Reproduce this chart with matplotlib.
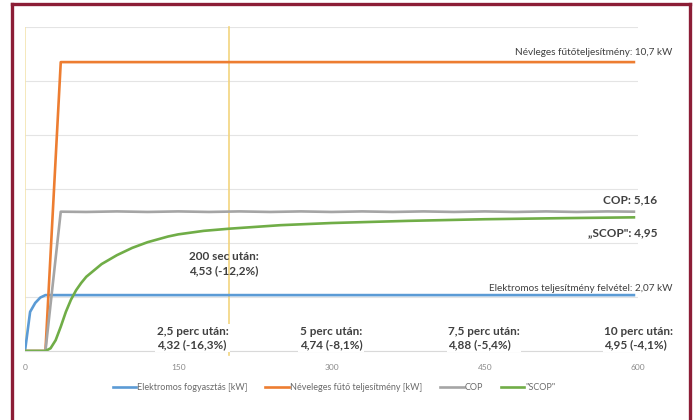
import matplotlib.pyplot as plt
from matplotlib.lines import Line2D

plt.rcParams['font.family'] = ['Lato', 'DejaVu Sans']

# Elektromos fogyasztás [kW]
t_elec = [0, 5, 10, 15, 20, 596]
elec = [0, 1.45, 1.78, 1.98, 2.07, 2.07]

# Névleges fűtő teljesítmény [kW]
t_heat = [0, 20, 35, 596]
heat = [0, 0, 10.7, 10.7]

# COP (slight ripple)
t_cop = [0, 20, 35, 60, 90, 120, 150, 180, 210, 240, 270, 300, 330, 360,
         390, 420, 450, 480, 510, 540, 570, 596]
cop = [0, 0, 5.16, 5.15, 5.17, 5.15, 5.17, 5.15, 5.17, 5.15, 5.17, 5.15,
       5.17, 5.15, 5.17, 5.15, 5.17, 5.15, 5.17, 5.15, 5.17, 5.16]

# "SCOP"
t_scop = [0, 20, 25, 30, 35, 40, 45, 50, 55, 60, 75, 90, 105, 120, 140, 150,
          175, 200, 250, 300, 375, 450, 525, 596]
scop = [0, 0, 0.1, 0.4, 0.9, 1.45, 1.9, 2.25, 2.52, 2.75, 3.22, 3.55, 3.82,
        4.03, 4.24, 4.32, 4.45, 4.53, 4.66, 4.74, 4.82, 4.88, 4.92, 4.95]

xticks = [0, 150, 300, 450, 600]
marker_t = 200

notes = [(129, '2,5 perc után:\n4,32 (-16,3%)'),
         (269, '5 perc után:\n4,74 (-8,1%)'),
         (414, '7,5 perc után:\n4,88 (-5,4%)'),
         (567, '10 perc után:\n4,95 (-4,1%)')]

c_blue = '#5B9BD5'
c_orange = '#ED7D31'
c_gray = '#A5A5A5'
c_green = '#70AD47'
c_text = '#404040'

fig = plt.figure(figsize=(6.93, 4.20), dpi=100)
ax = fig.add_axes([25/693, 1-351/420, 613/693, 324/420])

ax.set_xlim(0, 600)
ax.set_ylim(0, 12)
ax.set_yticks(range(0, 13, 2))
ax.set_yticklabels([])
ax.set_xticks(xticks)
ax.tick_params(axis='both', length=0)
ax.tick_params(axis='x', labelsize=6, labelcolor='#8a8a8a', pad=9)
ax.grid(axis='y', color='#E4E4E4', lw=0.8)
ax.set_axisbelow(True)
for s in ['top', 'right', 'left']:
    ax.spines[s].set_visible(False)
ax.spines['bottom'].set_color('#D9D9D9')
ax.spines['bottom'].set_linewidth(0.8)

ax.axvline(0, color='#F4E4B0', lw=1.2, zorder=1)
ax.axvline(marker_t, ymin=-0.012, color='#F2D47E', lw=1.2, zorder=1, clip_on=False)

ax.plot(t_elec, elec, color=c_blue, lw=1.9, label='Elektromos fogyasztás [kW]')
ax.plot(t_heat, heat, color=c_orange, lw=1.9, label='Néveleges fűtő teljesítmény [kW]')
ax.plot(t_cop, cop, color=c_gray, lw=1.9, label='COP')
ax.plot(t_scop, scop, color=c_green, lw=1.9, label='"SCOP"')

small = dict(fontsize=7.2, color=c_text, ha='right', va='center', clip_on=False)
big = dict(fontsize=8.5, color=c_text, fontweight='bold', clip_on=False)
ax.text(634, 11.07, 'Névleges fűtőteljesítmény: 10,7 kW', **small)
ax.text(634, 2.3, 'Elektromos teljesítmény felvétel: 2,07 kW', **small)
ax.text(619, 5.6, 'COP: 5,16', ha='right', va='center', **big)
ax.text(619, 4.37, '„SCOP": 4,95', ha='right', va='center', **big)
ax.text(161, 3.24, '200 sec után:\n4,53 (-12,2%)', ha='left', va='center',
        linespacing=1.3, **big)
for x, s in notes:
    ax.text(x, 0.48, s, ha='left', va='center', linespacing=1.3,
            bbox=dict(facecolor='white', edgecolor='none', pad=1.0), **big)

leg = fig.legend(loc='center', bbox_to_anchor=(0.482, 1-388/420), ncol=4,
                 frameon=False, fontsize=6.5, handlelength=2.6,
                 handletextpad=0.1, columnspacing=2.0)
for txt in leg.get_texts():
    txt.set_color('#6a6a6a')

# frame
fc = '#8C1D36'
fig.add_artist(Line2D([12.5/693, 12.5/693], [0, 1-3.5/420], color=fc, lw=2.4))
fig.add_artist(Line2D([12.5/693, 689.5/693], [1-3.5/420, 1-3.5/420], color=fc, lw=2.4))
fig.add_artist(Line2D([689.5/693, 689.5/693], [0, 1-3.5/420], color=fc, lw=2.4))

plt.savefig('out.png', dpi=100)
